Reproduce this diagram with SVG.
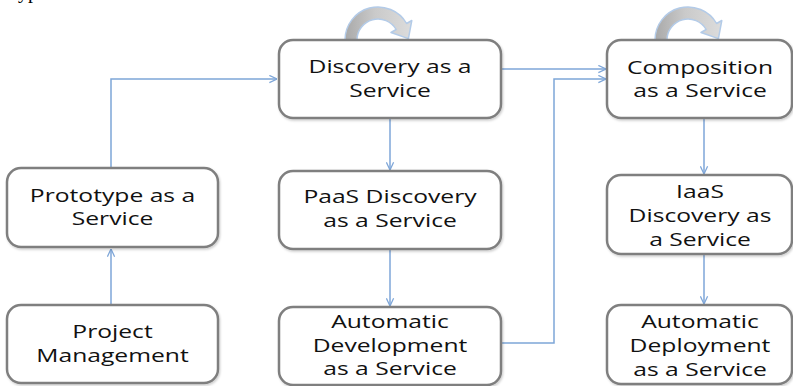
<svg xmlns="http://www.w3.org/2000/svg" width="793" height="386" viewBox="0 0 793 386">
<defs>
<style>
.box{fill:#ffffff;stroke:#7f7f7f;stroke-width:2.5}
.lbl{font-family:"Open Sans","Liberation Sans",sans-serif;font-size:18px;fill:#111111;text-anchor:middle}
.con{fill:none;stroke:#7ea6d8;stroke-width:1.5}
.loop{fill:url(#loopGrad);stroke:#b3cbe8;stroke-width:1.5;stroke-linejoin:round}
</style>
<marker id="arr" viewBox="0 0 10 10" refX="9.5" refY="5" markerWidth="9" markerHeight="9" markerUnits="userSpaceOnUse" orient="auto">
<path d="M1,1 L9.5,5 L1,9" fill="none" stroke="#7ea6d8" stroke-width="1.4"/>
</marker>
<linearGradient id="loopGrad" x1="0" y1="0" x2="1" y2="0">
<stop offset="0" stop-color="#a9a9a9"/>
<stop offset="0.45" stop-color="#cacaca"/>
<stop offset="1" stop-color="#dcdcdc"/>
</linearGradient>
<filter id="sh" x="-5%" y="-5%" width="110%" height="115%">
<feDropShadow dx="1" dy="1.5" stdDeviation="1" flood-color="#000" flood-opacity="0.2"/>
</filter>
</defs>
<rect width="793" height="386" fill="#ffffff"/>
<text x="18" y="-2" font-family="'Liberation Serif',serif" font-size="20" fill="#000">ypes.</text>

<g id="connectors">
<path class="con" d="M111 304 L111 249" marker-end="url(#arr)"/>
<path class="con" d="M111 168 L111 79 L277 79" marker-end="url(#arr)"/>
<path class="con" d="M390 118 L390 170" marker-end="url(#arr)"/>
<path class="con" d="M390 249 L390 306" marker-end="url(#arr)"/>
<path class="con" d="M501 69 L606 69" marker-end="url(#arr)"/>
<path class="con" d="M501 343 L554 343 L554 79 L606 79" marker-end="url(#arr)"/>
<path class="con" d="M704 118 L704 174" marker-end="url(#arr)"/>
<path class="con" d="M704 254 L704 304" marker-end="url(#arr)"/>
</g>

<g id="loop-discovery">
<path class="loop" d="M345 40 A33 33 0 0 1 406.6 23.5 L411.8 20.5 L408.4 38.6 L391 32.5 L396.2 29.5 A21 21 0 0 0 357 40 Z"/>
</g>
<g id="loop-composition">
<path class="loop" transform="translate(310,0)" d="M345 40 A33 33 0 0 1 406.6 23.5 L411.8 20.5 L408.4 38.6 L391 32.5 L396.2 29.5 A21 21 0 0 0 357 40 Z"/>
</g>

<g id="n-discovery">
<rect class="box" filter="url(#sh)" x="279" y="40" width="222" height="78" rx="14"/>
<text class="lbl" transform="matrix(1.37,0,0,1,390,0)"><tspan x="0" y="73">Discovery as a</tspan><tspan x="0" y="97">Service</tspan></text>
</g>
<g id="n-composition">
<rect class="box" filter="url(#sh)" x="607" y="40" width="185" height="78" rx="14"/>
<text class="lbl" transform="matrix(1.37,0,0,1,700,0)"><tspan x="0" y="74">Composition</tspan><tspan x="0" y="97">as a Service</tspan></text>
</g>
<g id="n-prototype">
<rect class="box" filter="url(#sh)" x="7" y="168" width="211" height="79" rx="14"/>
<text class="lbl" transform="matrix(1.37,0,0,1,112.5,0)"><tspan x="0" y="202">Prototype as a</tspan><tspan x="0" y="225">Service</tspan></text>
</g>
<g id="n-paas">
<rect class="box" filter="url(#sh)" x="279" y="171" width="222" height="78" rx="14"/>
<text class="lbl" transform="matrix(1.37,0,0,1,390,0)"><tspan x="0" y="203">PaaS Discovery</tspan><tspan x="0" y="227">as a Service</tspan></text>
</g>
<g id="n-iaas">
<rect class="box" filter="url(#sh)" x="607" y="175" width="185" height="79" rx="14"/>
<text class="lbl" transform="matrix(1.37,0,0,1,700,0)"><tspan x="0" y="198">IaaS</tspan><tspan x="0" y="222">Discovery as</tspan><tspan x="0" y="246">a Service</tspan></text>
</g>
<g id="n-project">
<rect class="box" filter="url(#sh)" x="7" y="305" width="211" height="78" rx="14"/>
<text class="lbl" transform="matrix(1.37,0,0,1,112.5,0)"><tspan x="0" y="338">Project</tspan><tspan x="0" y="362">Management</tspan></text>
</g>
<g id="n-autodev">
<rect class="box" filter="url(#sh)" x="279" y="307" width="222" height="78" rx="14"/>
<text class="lbl" transform="matrix(1.37,0,0,1,390,0)"><tspan x="0" y="328">Automatic</tspan><tspan x="0" y="352">Development</tspan><tspan x="0" y="375">as a Service</tspan></text>
</g>
<g id="n-autodeploy">
<rect class="box" filter="url(#sh)" x="607" y="305" width="185" height="79" rx="14"/>
<text class="lbl" transform="matrix(1.37,0,0,1,700,0)"><tspan x="0" y="328">Automatic</tspan><tspan x="0" y="352">Deployment</tspan><tspan x="0" y="376">as a Service</tspan></text>
</g>
</svg>
